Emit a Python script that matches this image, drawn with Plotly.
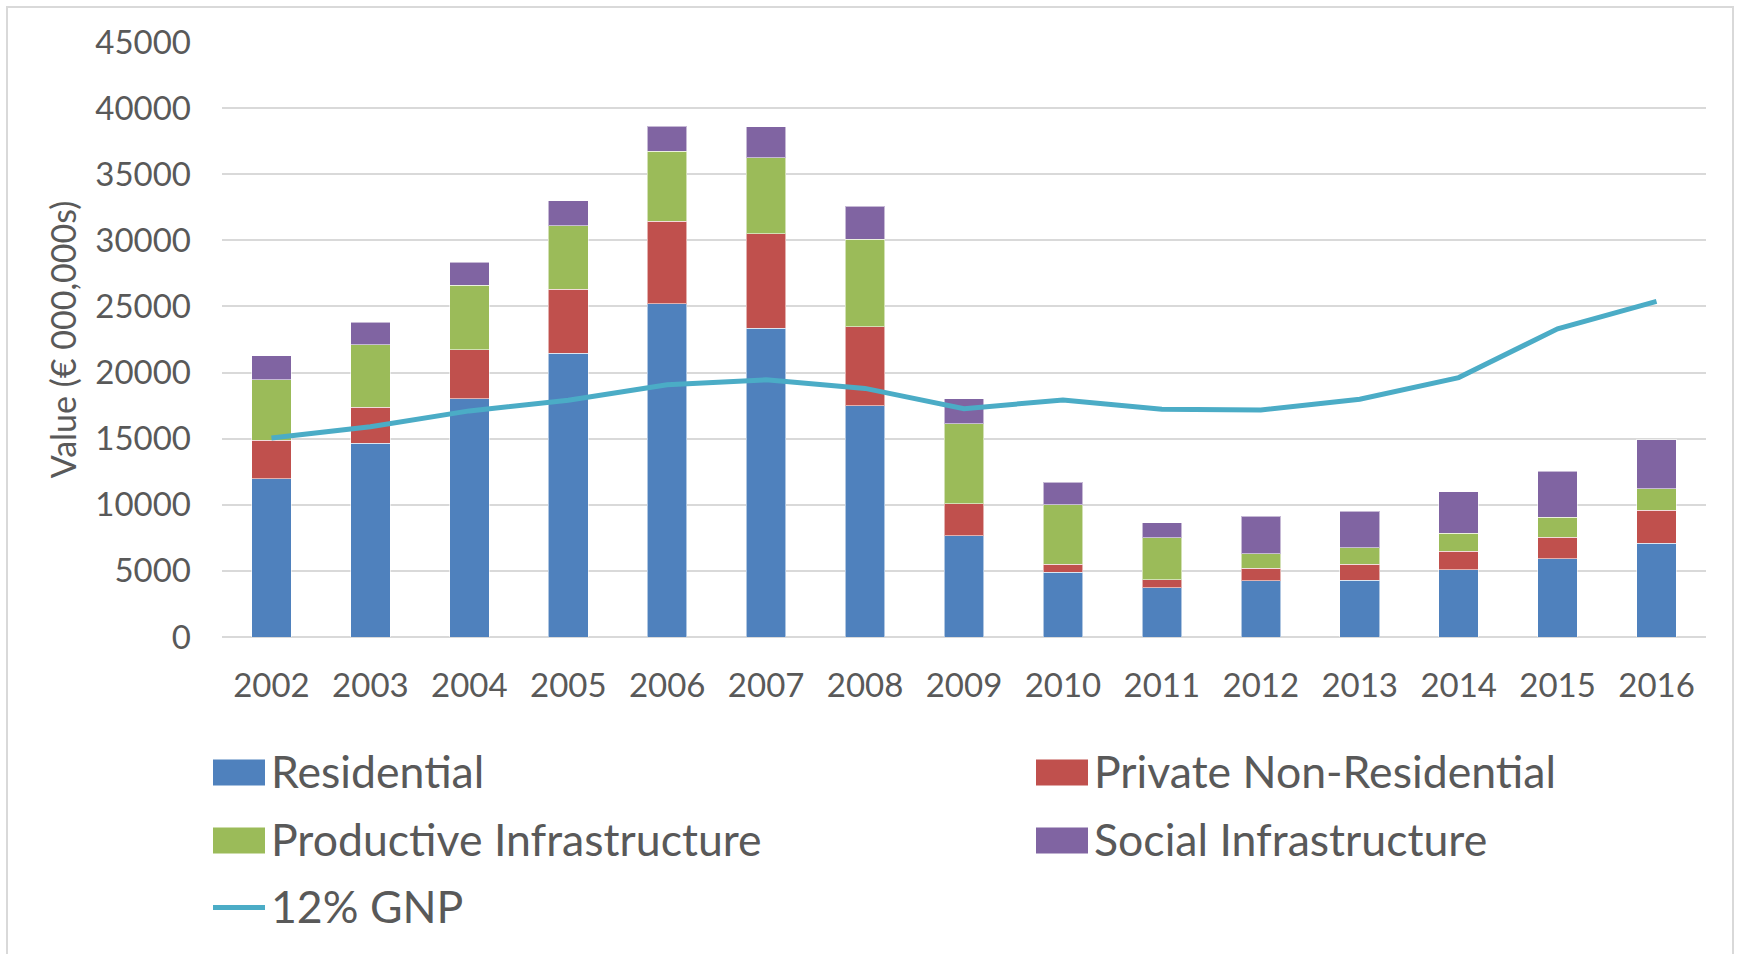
import plotly.graph_objects as go

years = ["2002", "2003", "2004", "2005", "2006", "2007", "2008", "2009",
         "2010", "2011", "2012", "2013", "2014", "2015", "2016"]

residential = [11950, 14650, 18010, 21470, 25200, 23360, 17500, 7670,
               4890, 3730, 4270, 4300, 5100, 5900, 7080]
private_non_residential = [2930, 2730, 3730, 4820, 6230, 7120, 5980, 2410,
                           630, 590, 930, 1220, 1380, 1650, 2520]
productive_infrastructure = [4590, 4740, 4880, 4820, 5290, 5760, 6620, 6030,
                             4500, 3200, 1090, 1220, 1370, 1520, 1610]
social_infrastructure = [1820, 1700, 1740, 1870, 1890, 2350, 2480, 1920,
                         1700, 1140, 2830, 2780, 3130, 3450, 3690]
gnp_12pct = [15050, 15900, 17100, 17900, 19070, 19450, 18800, 17270,
             17930, 17220, 17170, 17980, 19620, 23310, 25380]

series_names = ["Residential", "Private Non-Residential",
                "Productive Infrastructure", "Social Infrastructure", "12% GNP"]
colors = ["#4F81BD", "#C0504D", "#9BBB59", "#8064A2", "#4BACC6"]

W, H = 1739, 954
ML, MR, MT, MB = 222, 33, 42, 317
PW, PH = W - ML - MR, H - MT - MB
FONT = "Lato"
TXT = "#595959"


def px(x):
    return (x - ML) / PW


def py(y):
    return (H - MB - y) / PH


fig = go.Figure()
bar_values = [residential, private_non_residential,
              productive_infrastructure, social_infrastructure]
for name, vals, col in zip(series_names[:4], bar_values, colors[:4]):
    fig.add_trace(go.Bar(
        x=years, y=vals, name=name,
        marker=dict(color=col, line=dict(color="rgba(255,255,255,0.55)", width=1)),
        showlegend=False,
    ))

fig.add_trace(go.Scatter(
    x=years, y=gnp_12pct, name=series_names[4], mode="lines",
    line=dict(color=colors[4], width=5), showlegend=False,
))

# manual legend (two columns, like the original)
legend_slots = [(213, 772.5), (1036, 772.5), (213, 840.5), (1036, 840.5), (213, 907.5)]
shapes = []
annotations = []
for i, (name, col) in enumerate(zip(series_names, colors)):
    sx, sy = legend_slots[i]
    if i < 4:
        shapes.append(dict(type="rect", xref="paper", yref="paper",
                           x0=px(sx), x1=px(sx + 52), y0=py(sy - 13), y1=py(sy + 13),
                           fillcolor=col, line=dict(width=0)))
    else:
        shapes.append(dict(type="line", xref="paper", yref="paper",
                           x0=px(sx), x1=px(sx + 52), y0=py(sy), y1=py(sy),
                           line=dict(color=col, width=5)))
    annotations.append(dict(xref="paper", yref="paper", x=px(sx + 56), y=py(sy - 2.5),
                            xanchor="left", yanchor="middle", showarrow=False,
                            text=name, font=dict(family=FONT, size=44.6, color=TXT)))

# outer chart border
shapes.append(dict(type="rect", xref="paper", yref="paper",
                   x0=px(7), x1=px(1733), y0=py(7), y1=py(990),
                   line=dict(color="#D9D9D9", width=2), fillcolor="rgba(0,0,0,0)",
                   layer="below"))

fig.update_layout(
    width=W, height=H, autosize=False,
    margin=dict(l=ML, r=MR, t=MT, b=MB, pad=0),
    paper_bgcolor="white", plot_bgcolor="white",
    barmode="stack", bargap=0.6,
    font=dict(family=FONT, color=TXT),
    shapes=shapes, annotations=annotations,
    xaxis=dict(
        type="category", showgrid=False, zeroline=False,
        showline=False, ticks="",
        tickfont=dict(family=FONT, size=33, color=TXT),
        ticklabelstandoff=26,
    ),
    yaxis=dict(
        range=[0, 45000], dtick=5000, tick0=0, tickformat="d",
        showgrid=True, gridcolor="#D9D9D9", gridwidth=2,
        zeroline=True, zerolinecolor="#D9D9D9", zerolinewidth=2,
        showline=False, ticks="",
        tickfont=dict(family=FONT, size=33, color=TXT),
        ticklabelstandoff=30,
        title=dict(text="Value (€ 000,000s)", standoff=8,
                   font=dict(family=FONT, size=34, color=TXT)),
    ),
)

fig.write_html("out.html", config={"displayModeBar": False},
               post_script="document.body.style.margin='0';document.body.style.overflow='hidden';")
